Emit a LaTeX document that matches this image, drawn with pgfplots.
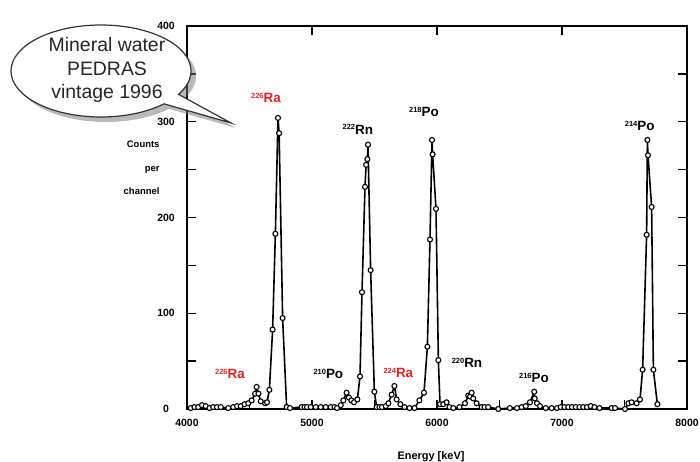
\documentclass[border=0pt]{standalone}
\usepackage{pgfplots}
\pgfplotsset{compat=1.18}
\usepackage{fontspec}
\setmainfont{Liberation Sans}
\usetikzlibrary{shapes.callouts,shadows}
\definecolor{lblred}{RGB}{225,35,35}
\newcommand{\iso}[2]{{\fontsize{7.5}{8}\selectfont\bfseries\raisebox{0.55em}{#1}}{\fontsize{13.5}{15}\selectfont\bfseries #2}}
\begin{document}
\begin{tikzpicture}
\begin{axis}[
  at={(0,0)}, anchor=south west,
  scale only axis, width=500bp, height=383bp,
  xmin=4000, xmax=8000, ymin=0, ymax=400,
  xtick={4000,5000,6000,7000,8000},
  minor xtick={4500,5500,6500,7500},
  xtick pos=bottom,
  ytick={0,100,200,300,400},
  minor ytick={50,150,250,350},
  ytick pos=both,
  tick align=inside,
  major tick length=9bp, minor tick length=9bp,
  axis line style={line width=1.5bp},
  every tick/.style={line width=1.3bp, black},
  /pgf/number format/assume math mode=true,
  /pgf/number format/1000 sep={},
  tick label style={font=\fontsize{10.5}{12}\selectfont\bfseries},
  yticklabel style={anchor=center, xshift=-21bp},
  xticklabel style={yshift=-7bp},
  clip=false,
]
\addplot[black, line width=1.6bp, mark=*, mark size=2.5bp,
  mark options={fill=white, draw=black, line width=1.1bp}] coordinates {
(4030,1) (4060,2) (4090,2) (4120,4) (4150,3) (4180,1) (4210,2) (4240,2) (4270,2)
(4330,1) (4370,2) (4400,3) (4430,3) (4460,5) (4490,6) (4517,9) (4545,16) (4557,23)
(4572,16) (4590,8) (4625,6) (4640,7) (4659,20) (4685,83) (4707,183) (4728,304)
(4737,288) (4765,95) (4797,2) (4824,1)
(4917,2) (4940,2) (4960,2) (4990,2) (5030,2) (5070,2) (5110,2) (5150,2) (5180,2)
(5200,1) (5230,4) (5251,9) (5277,17) (5295,12) (5315,9) (5336,7) (5363,10) (5384,34)
(5400,122) (5424,232) (5433,255) (5443,261) (5448,276) (5469,145) (5499,18) (5517,2)
(5540,2) (5560,2) (5590,3) (5611,6) (5637,15) (5659,24) (5677,10) (5707,5) (5740,2)
(5780,1) (5820,1) (5859,9) (5896,17) (5923,65) (5944,177) (5960,281) (5965,266)
(5992,209) (6011,51) (6024,5) (6050,5) (6077,7) (6100,2) (6130,1) (6180,2) (6224,6)
(6250,14) (6265,13) (6277,17) (6290,11) (6317,6) (6357,2) (6380,2) (6410,2) (6490,0)
(6583,1) (6640,1) (6677,2) (6710,3) (6744,7) (6778,18) (6782,11) (6800,6) (6824,3)
(6870,1) (6917,1) (6960,1) (6990,2) (7020,2) (7050,2) (7080,2) (7110,2) (7140,2)
(7170,2) (7200,2) (7230,3) (7260,2) (7300,1) (7397,1) (7424,1) (7504,0) (7531,6)
(7557,7) (7597,6) (7624,10) (7645,41) (7677,182) (7683,281) (7688,265) (7717,211)
(7731,41) (7763,5)
};
\node[lblred] at (axis cs:4632,325) {\iso{226}{Ra}};
\node at (axis cs:5367,292) {\iso{222}{Rn}};
\node at (axis cs:5896,310) {\iso{218}{Po}};
\node at (axis cs:7622,296) {\iso{214}{Po}};
\node[lblred] at (axis cs:4344,37) {\iso{226}{Ra}};
\node at (axis cs:5131,37) {\iso{210}{Po}};
\node[lblred] at (axis cs:5691,38) {\iso{224}{Ra}};
\node at (axis cs:6240,48) {\iso{220}{Rn}};
\node at (axis cs:6776,32) {\iso{216}{Po}};
\end{axis}
\begin{axis}[
  at={(0,0)}, anchor=south west,
  scale only axis, width=500bp, height=383bp,
  xmin=4000, xmax=8000, ymin=0, ymax=400,
  axis x line*=top, hide y axis,
  xtick={4000,5000,6000,7000,8000}, xticklabels={},
  tick align=inside, major tick length=9bp,
  axis line style={line width=1.5bp},
  every tick/.style={line width=1.3bp, black},
]
\end{axis}
% axis labels
\node[anchor=east, align=right, font=\fontsize{9.5}{23.5}\selectfont\bfseries] at (-24bp,241bp) {Counts\\per\\channel};
\node[font=\fontsize{11}{13}\selectfont\bfseries] at (244bp,-48bp) {Energy [keV]};
% callout
\node[ellipse callout, draw=black!80, line width=1.2bp, fill=white,
  drop shadow={shadow xshift=5bp, shadow yshift=-5bp, fill=black!55},
  minimum width=180bp, minimum height=92bp, inner sep=0pt,
  callout absolute pointer={(44bp,286bp)}] at (-86bp,338bp) {};
\node[align=center, text=black!85, font=\fontsize{19.5}{24}\selectfont] at (-80bp,339bp) {Mineral water\\PEDRAS\\vintage 1996};
\pgfresetboundingbox
\useasboundingbox (-187bp,-53bp) rectangle (513bp,409bp);
\end{tikzpicture}
\end{document}
